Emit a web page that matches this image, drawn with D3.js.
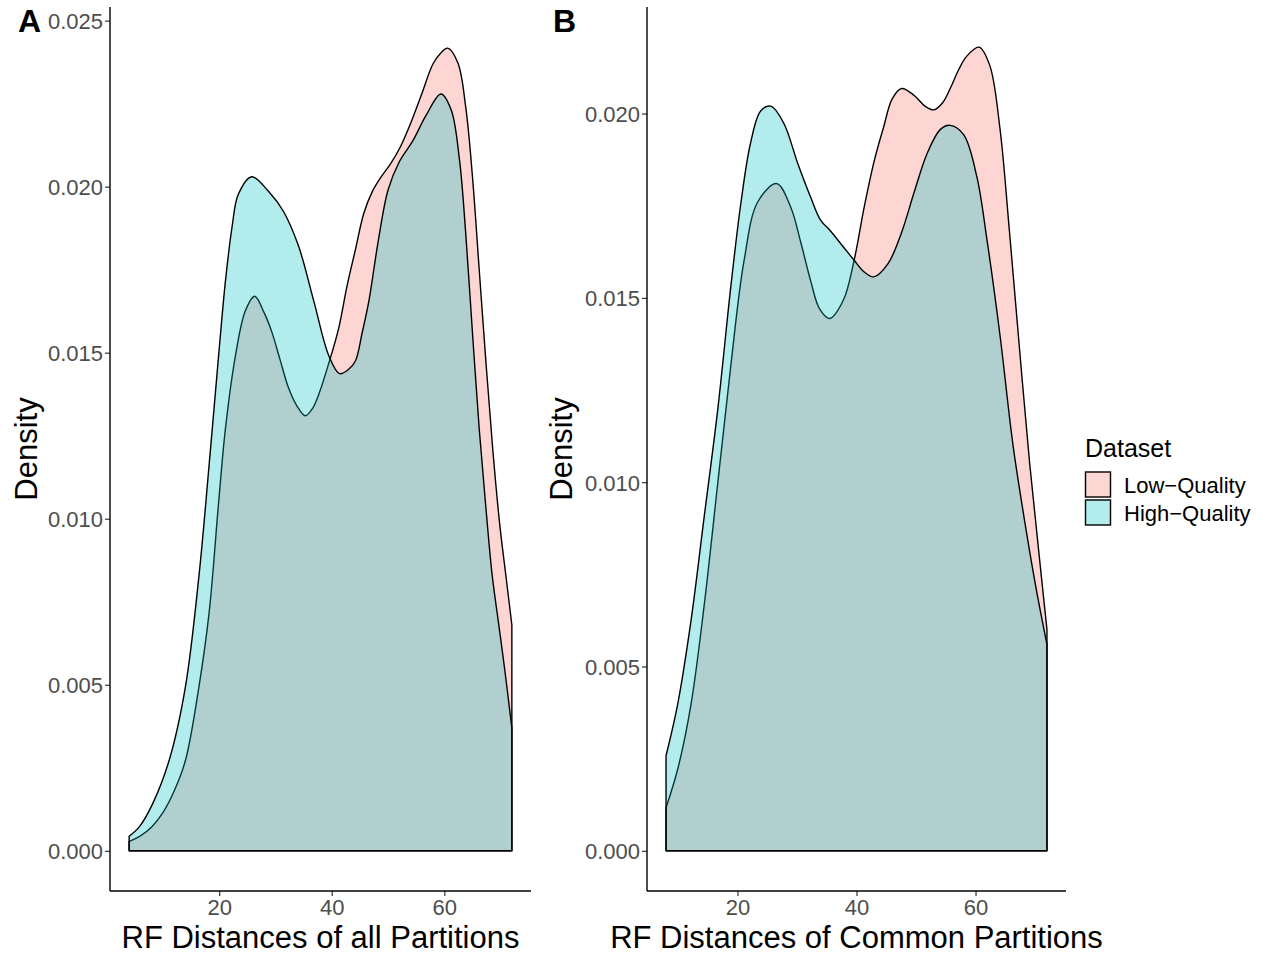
<!DOCTYPE html>
<html>
<head>
<meta charset="utf-8">
<script src="https://cdn.jsdelivr.net/npm/d3@7"></script>
<style>
  body { margin: 0; background: #fff; }
  text { font-family: "Liberation Sans", Arial, Helvetica, sans-serif; }
</style>
</head>
<body>
<svg id="chart" width="1262" height="955"></svg>
<script>
// Panel A: RF distances of all partitions (density estimates)
const aLowX  = [4, 6, 8, 10, 12, 14, 16.4, 18.2, 19.9, 21.1, 22.9, 24.65, 26.3, 28, 29.3, 30.8, 32.3, 33.8, 35.3, 36.5, 37.7, 39.5, 41.25, 42.7, 44.2, 45.7, 47.2, 48.8, 50.5, 52.2, 54, 56, 58, 59.5, 60.6, 62.4, 63.8, 65, 66.2, 67.4, 68.6, 69.8, 71, 72];
const aLowY  = [0.00028, 0.00045, 0.00072, 0.00115, 0.0018, 0.00272, 0.00494, 0.00716, 0.01049, 0.0127, 0.01492, 0.01626, 0.0167, 0.0162, 0.01565, 0.0148, 0.01395, 0.0134, 0.0131, 0.0133, 0.01375, 0.0147, 0.01575, 0.017, 0.0181, 0.0192, 0.01985, 0.0203, 0.0207, 0.0212, 0.0219, 0.0228, 0.0237, 0.02405, 0.02417, 0.02373, 0.0224, 0.0203, 0.0175, 0.0147, 0.0121, 0.0099, 0.0082, 0.0068];
const aHighX = [4, 5.8, 8.1, 11.1, 14, 16.4, 18.2, 19.9, 21.1, 22.3, 23.4, 25.8, 28.75, 31.4, 34.1, 36.8, 39.5, 41.4, 43, 44.2, 45.4, 46.6, 48.2, 50, 52, 54.4, 56.8, 59.4, 61.2, 62.7, 63.8, 65, 66.2, 67.4, 68.5, 69.6, 70.7, 72];
const aHighY = [0.00044, 0.00072, 0.00139, 0.00272, 0.00494, 0.00827, 0.0116, 0.01492, 0.01714, 0.0188, 0.01977, 0.0203, 0.01986, 0.01926, 0.01821, 0.01656, 0.0149, 0.01437, 0.0145, 0.01475, 0.0156, 0.01656, 0.0183, 0.0199, 0.02075, 0.02138, 0.02216, 0.02279, 0.02232, 0.0208, 0.0186, 0.0156, 0.0127, 0.0103, 0.0083, 0.0069, 0.0055, 0.0037];

// Panel B: RF distances of common partitions
const bLowX  = [8, 10, 12.2, 14.4, 16.7, 18.9, 21.1, 23.4, 26.6, 28.95, 30.6, 32.3, 33.8, 35.5, 37.8, 39.6, 41.3, 43, 44.5, 46, 47.6, 49.7, 51.5, 53, 54.5, 55.8, 57.2, 58.5, 60.6, 62.4, 64.1, 65.7, 67.4, 69.1, 70.7, 72];
const bLowY  = [0.00117, 0.00224, 0.00398, 0.00665, 0.00999, 0.01319, 0.016, 0.0176, 0.0181, 0.01746, 0.01653, 0.01546, 0.0147, 0.01444, 0.01494, 0.01602, 0.01747, 0.01873, 0.0196, 0.0204, 0.02068, 0.02049, 0.0202, 0.0201, 0.0203, 0.0207, 0.0212, 0.02155, 0.0218, 0.0213, 0.0196, 0.0168, 0.0136, 0.0105, 0.008, 0.006];
const bHighX = [8, 9.96, 12.2, 14.4, 16.7, 18.9, 20.6, 22.2, 23.9, 25.6, 27.8, 30.1, 32.3, 34, 35.5, 37.8, 39.6, 41.3, 42.9, 45.3, 47.5, 49.7, 51.9, 54.1, 55.7, 58, 60.2, 61.9, 64.1, 66.3, 68.5, 70.2, 72];
const bHighY = [0.00258, 0.00398, 0.00625, 0.00905, 0.01199, 0.01533, 0.0176, 0.0192, 0.02007, 0.0202, 0.01973, 0.01866, 0.01773, 0.0171, 0.01684, 0.01638, 0.01602, 0.0157, 0.01557, 0.01593, 0.01674, 0.01787, 0.01893, 0.01957, 0.01968, 0.01943, 0.0183, 0.0166, 0.014, 0.011, 0.0087, 0.0071, 0.0056];

const groups = ["Low\u2212Quality", "High\u2212Quality"];
const fills = ["#F8766D", "#00BFC4"];
const yTicksA = [0, 0.005, 0.01, 0.015, 0.02, 0.025];
const yTicksB = [0, 0.005, 0.01, 0.015, 0.02];
const xTicks = [20, 40, 60];

const svg = d3.select("#chart");
const zip = (xs, ys) => xs.map((x, i) => ({ x: x, y: ys[i] }));
const plotTop = 7, plotBottom = 891;

function panel(opts) {
  const x = d3.scaleLinear().domain(opts.xDomain).range(opts.xRange);
  const y = d3.scaleLinear().domain(opts.yDomain).range([plotBottom, plotTop]);
  const g = svg.append("g");

  const area = d3.area()
    .x(d => x(d.x))
    .y0(y(0))
    .y1(d => y(d.y))
    .curve(d3.curveCatmullRom.alpha(0.5));

  opts.series.forEach((s, i) => {
    g.append("path")
      .datum(s)
      .attr("d", area)
      .attr("fill", fills[i])
      .attr("fill-opacity", 0.3)
      .attr("stroke", "#000")
      .attr("stroke-width", 1.4)
      .attr("stroke-linejoin", "round");
  });

  const yAxis = g.append("g")
    .attr("transform", `translate(${opts.xRange[0]},0)`)
    .call(d3.axisLeft(y).tickValues(opts.yTicks).tickFormat(d3.format(".3f")).tickSize(5));
  const xAxis = g.append("g")
    .attr("transform", `translate(0,${plotBottom})`)
    .call(d3.axisBottom(x).tickValues(xTicks).tickSize(5));

  [yAxis, xAxis].forEach(ax => {
    ax.select(".domain").remove();
    ax.selectAll(".tick line").attr("stroke", "#333").attr("stroke-width", 1.2);
    ax.selectAll(".tick text")
      .attr("fill", "#4D4D4D")
      .style("font-size", "22px")
      .style("font-family", "'Liberation Sans', Arial, sans-serif");
  });
  yAxis.selectAll(".tick text").attr("x", -7).attr("dy", "0.36em");
  xAxis.selectAll(".tick text").attr("y", 8);

  // axis lines
  g.append("line")
    .attr("x1", opts.xRange[0]).attr("x2", opts.xRange[0])
    .attr("y1", plotTop).attr("y2", plotBottom)
    .attr("stroke", "#000").attr("stroke-width", 1.4);
  g.append("line")
    .attr("x1", opts.xRange[0]).attr("x2", opts.xRange[1])
    .attr("y1", plotBottom).attr("y2", plotBottom)
    .attr("stroke", "#000").attr("stroke-width", 1.4);

  g.append("text")
    .attr("transform", `translate(${opts.yTitleX},449) rotate(-90)`)
    .attr("text-anchor", "middle")
    .style("font-size", "31px")
    .text("Density");

  g.append("text")
    .attr("x", (opts.xRange[0] + opts.xRange[1]) / 2)
    .attr("y", 948)
    .attr("text-anchor", "middle")
    .style("font-size", "31px")
    .text(opts.xTitle);

  g.append("text")
    .attr("x", opts.tagX)
    .attr("y", 32)
    .style("font-size", "32px")
    .style("font-weight", "bold")
    .text(opts.tag);
}

panel({
  xDomain: [0.6, 75.4], xRange: [110, 531],
  yDomain: [-0.00121, 0.02541], yTicks: yTicksA,
  series: [zip(aLowX, aLowY), zip(aHighX, aHighY)],
  yTitleX: 37, xTitle: "RF Distances of all Partitions",
  tag: "A", tagX: 18
});

panel({
  xDomain: [4.8, 75.2], xRange: [647, 1066],
  yDomain: [-0.00109, 0.02289], yTicks: yTicksB,
  series: [zip(bLowX, bLowY), zip(bHighX, bHighY)],
  yTitleX: 572, xTitle: "RF Distances of Common Partitions",
  tag: "B", tagX: 553
});

// legend
const legend = svg.append("g").attr("transform", "translate(1085,0)");
legend.append("text")
  .attr("x", 0).attr("y", 457)
  .style("font-size", "25px")
  .text("Dataset");
groups.forEach((name, i) => {
  legend.append("rect")
    .attr("x", 0.5).attr("y", 472 + i * 28)
    .attr("width", 25).attr("height", 25)
    .attr("fill", fills[i]).attr("fill-opacity", 0.3)
    .attr("stroke", "#000").attr("stroke-width", 1.4);
  legend.append("text")
    .attr("x", 39).attr("y", 485 + i * 28)
    .attr("dy", "0.36em")
    .style("font-size", "22px")
    .text(name);
});
</script>
</body>
</html>
